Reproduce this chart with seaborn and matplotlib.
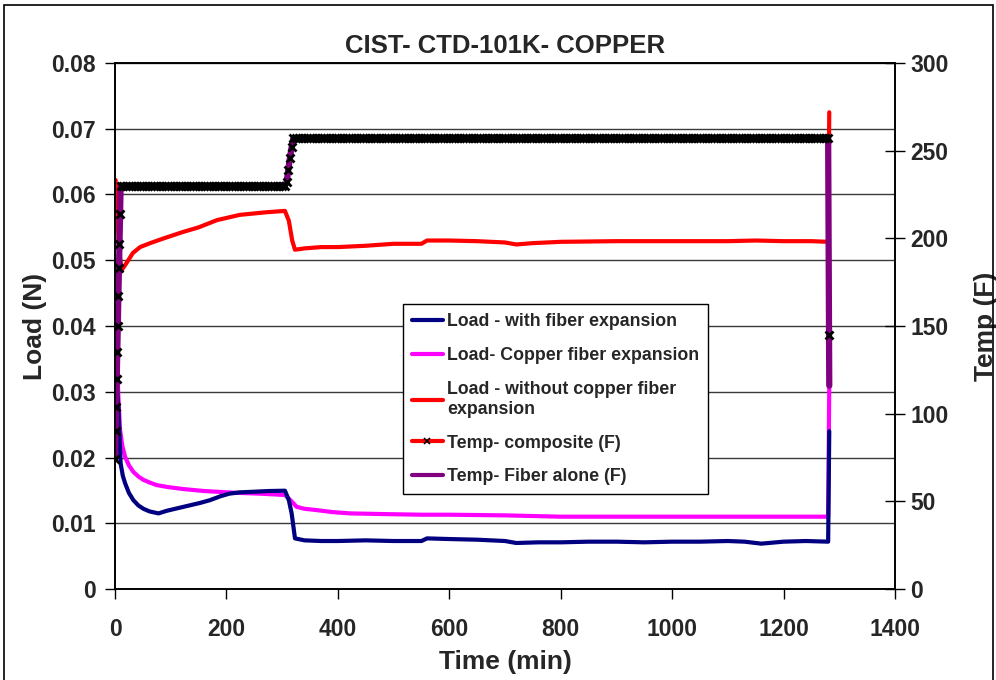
import numpy as np
import pandas as pd
import matplotlib
matplotlib.use("Agg")
import matplotlib.pyplot as plt
from matplotlib.lines import Line2D
from matplotlib.patches import Rectangle
import seaborn as sns

# ---------------- data ----------------
title = "CIST- CTD-101K- COPPER"

# Load - with fiber expansion (N)
t_with = [0, 3, 6, 10, 14, 18, 25, 33, 42, 51, 62, 78, 93, 108, 123, 138, 153,
          170, 189, 205, 224, 250, 275, 305, 312, 317, 323, 340, 370, 400, 450,
          500, 550, 560, 600, 650, 700, 720, 760, 800, 850, 900, 950, 1000, 1050,
          1100, 1130, 1160, 1200, 1240, 1280, 1282]
load_with = [0.036, 0.031, 0.0277, 0.0191, 0.0172, 0.0161, 0.0146, 0.0135,
             0.0127, 0.0122, 0.0118, 0.0115, 0.0119, 0.0122, 0.0125, 0.0128,
             0.0131, 0.0135, 0.0141, 0.0145, 0.0147, 0.0148, 0.0149, 0.01495,
             0.0135, 0.0115, 0.0077, 0.0074, 0.0073, 0.0073, 0.0074, 0.0073,
             0.0073, 0.0077, 0.0076, 0.0075, 0.0073, 0.0070, 0.0071, 0.0071,
             0.0072, 0.0072, 0.0071, 0.0072, 0.0072, 0.0073, 0.0072, 0.0069,
             0.0072, 0.0073, 0.0072, 0.024]

# Load - copper fiber expansion (N)
t_copper = [0, 3, 6, 9, 13, 18, 25, 33, 42, 51, 62, 75, 95, 123, 160, 212, 260,
            305, 315, 326, 340, 362, 390, 422, 480, 550, 600, 700, 800, 900,
            1000, 1100, 1200, 1280, 1282]
load_copper = [0.050, 0.036, 0.0292, 0.0242, 0.0218, 0.0201, 0.0188, 0.0178,
               0.0171, 0.0166, 0.0162, 0.0158, 0.0155, 0.0152, 0.0149, 0.01465,
               0.0145, 0.0143, 0.0135, 0.0125, 0.0122, 0.0120, 0.0117, 0.0115,
               0.0114, 0.0113, 0.0113, 0.0112, 0.0110, 0.0110, 0.0110, 0.0110,
               0.0110, 0.0110, 0.031]

# Load - without copper fiber expansion (N)
t_without = [1, 3, 8, 12, 20, 32, 45, 63, 90, 122, 150, 183, 224, 272, 305, 312,
             318, 323, 340, 370, 400, 450, 500, 550, 560, 600, 650, 700, 720,
             750, 800, 900, 1000, 1100, 1150, 1200, 1250, 1280, 1282]
load_without = [0.0622, 0.058, 0.051, 0.0485, 0.0495, 0.0511, 0.0520, 0.0526,
                0.0534, 0.0543, 0.0550, 0.0561, 0.0569, 0.0573, 0.0575, 0.0560,
                0.0530, 0.0516, 0.0518, 0.0520, 0.0520, 0.0522, 0.0525, 0.0525,
                0.0530, 0.0530, 0.0529, 0.0527, 0.0524, 0.0526, 0.0528, 0.0529,
                0.0529, 0.0529, 0.0530, 0.0529, 0.0529, 0.0528, 0.0725]

# Temperature of the composite (F), logged every minute on the ramps
t_comp = (list(range(0, 11)) + list(range(15, 301, 5))
          + [305, 308, 311, 314, 317, 320] + list(range(325, 1281, 5)) + [1282])
temp_comp = ([74, 90, 104, 120, 135, 150, 167, 183, 197, 214, 230]
             + [230, 230, 230, 230, 230, 230, 230, 230, 230, 230, 230, 230,
                230, 230, 230, 230, 230, 230, 230, 230, 230, 230, 230, 230,
                230, 230, 230, 230, 230, 230, 230, 230, 230, 230, 230, 230,
                230, 230, 230, 230, 230, 230, 230, 230, 230, 230, 230, 230,
                230, 230, 230, 230, 230, 230, 230, 230, 230, 230]
             + [230, 232, 239, 246, 252, 257]
             + [257, 257, 257, 257, 257, 257, 257, 257, 257, 257, 257, 257,
                257, 257, 257, 257, 257, 257, 257, 257, 257, 257, 257, 257,
                257, 257, 257, 257, 257, 257, 257, 257, 257, 257, 257, 257,
                257, 257, 257, 257, 257, 257, 257, 257, 257, 257, 257, 257,
                257, 257, 257, 257, 257, 257, 257, 257, 257, 257, 257, 257,
                257, 257, 257, 257, 257, 257, 257, 257, 257, 257, 257, 257,
                257, 257, 257, 257, 257, 257, 257, 257, 257, 257, 257, 257,
                257, 257, 257, 257, 257, 257, 257, 257, 257, 257, 257, 257,
                257, 257, 257, 257, 257, 257, 257, 257, 257, 257, 257, 257,
                257, 257, 257, 257, 257, 257, 257, 257, 257, 257, 257, 257,
                257, 257, 257, 257, 257, 257, 257, 257, 257, 257, 257, 257,
                257, 257, 257, 257, 257, 257, 257, 257, 257, 257, 257, 257,
                257, 257, 257, 257, 257, 257, 257, 257, 257, 257, 257, 257,
                257, 257, 257, 257, 257, 257, 257, 257, 257, 257, 257, 257,
                257, 257, 257, 257, 257, 257, 257, 257, 257, 257, 257, 257,
                257, 257, 257, 257, 257, 257, 257, 257, 257, 257, 257, 257]
             + [145])

# Temperature of the fiber alone (F)
t_fiber = [0, 2, 4, 6, 8, 10, 100, 200, 305, 308, 311, 314, 317, 320, 500, 800,
           1100, 1280, 1282]
temp_fiber = [74, 104, 135, 167, 197, 230, 230, 230, 230, 232, 239, 246, 252,
              257, 257, 257, 257, 257, 116]

C_WITH = "#000080"
C_COPPER = "#FF00FF"
C_WITHOUT = "#FF0000"
C_FIBER = "#800080"

# ---------------- style ----------------
sns.set_style("white")
plt.rcParams["font.family"] = ["Liberation Sans", "DejaVu Sans"]
plt.rcParams["font.weight"] = "bold"

fig = plt.figure(figsize=(9.96, 6.8), dpi=100)
ax = fig.add_axes([0.1155, 0.1338, 0.7831, 0.7736])

df_with = pd.DataFrame({"t": t_with, "v": load_with})
df_copper = pd.DataFrame({"t": t_copper, "v": load_copper})
df_without = pd.DataFrame({"t": t_without, "v": load_without})
df_comp = pd.DataFrame({"t": t_comp, "v": temp_comp})
df_fiber = pd.DataFrame({"t": t_fiber, "v": temp_fiber})

sns.lineplot(data=df_without, x="t", y="v", ax=ax, color=C_WITHOUT, lw=3,
             sort=False, estimator=None)
sns.lineplot(data=df_copper, x="t", y="v", ax=ax, color=C_COPPER, lw=3,
             sort=False, estimator=None)
sns.lineplot(data=df_with, x="t", y="v", ax=ax, color=C_WITH, lw=3,
             sort=False, estimator=None)

ax.set_xlim(0, 1400)
ax.set_ylim(0, 0.08)
ax.set_xticks(np.arange(0, 1401, 200))
ax.set_yticks(np.arange(0, 0.0801, 0.01))
ax.set_yticklabels(["0", "0.01", "0.02", "0.03", "0.04", "0.05", "0.06",
                    "0.07", "0.08"])
for y in np.arange(0.01, 0.0801, 0.01):
    ax.axhline(y, color="#3a3a3a", lw=1.0, zorder=0.5)

ax.set_xlabel("Time (min)", fontsize=19, fontweight="bold", labelpad=6)
ax.set_ylabel("Load (N)", fontsize=19, fontweight="bold", labelpad=3)
ax.set_title(title, fontsize=18.5, fontweight="bold", pad=7)
ax.tick_params(axis="y", labelsize=16.5, direction="out", length=7,
               width=1, color="black", pad=7, left=True)
ax.tick_params(axis="x", labelsize=16.5, direction="out", length=7,
               width=1, color="black", pad=14, bottom=True)
for lab in ax.get_xticklabels() + ax.get_yticklabels():
    lab.set_fontweight("bold")
for s in ax.spines.values():
    s.set_color("black")
    s.set_linewidth(1.2)

# Temperature on the secondary axis
ax2 = ax.twinx()
sns.lineplot(data=df_comp, x="t", y="v", ax=ax2, color=C_WITHOUT, lw=2,
             sort=False, estimator=None, zorder=1)
sns.lineplot(data=df_fiber, x="t", y="v", ax=ax2, color=C_FIBER, lw=4.5,
             sort=False, estimator=None, zorder=2)
ax2.plot(t_comp, temp_comp, ls="none", marker="x", color="black", ms=6,
         mew=2.0, zorder=3)
ax2.set_ylim(0, 300)
ax2.set_yticks(np.arange(0, 301, 50))
ax2.set_ylabel("Temp (F)", fontsize=19, fontweight="bold", labelpad=18)
ax2.tick_params(axis="y", labelsize=16.5, direction="inout", length=14,
                width=1, color="black", pad=4, right=True)
for lab in ax2.get_yticklabels():
    lab.set_fontweight("bold")
ax2.grid(False)
for s in ax2.spines.values():
    s.set_color("black")
    s.set_linewidth(1.2)

handles = [
    Line2D([], [], color=C_WITH, lw=3),
    Line2D([], [], color=C_COPPER, lw=3),
    Line2D([], [], color=C_WITHOUT, lw=3),
    Line2D([], [], color=C_WITHOUT, lw=3, marker="x", mec="black", ms=4,
           mew=1.2, markevery=[1]),
    Line2D([], [], color=C_FIBER, lw=3),
]
labels = ["Load - with fiber expansion", "Load- Copper fiber expansion",
          "Load - without copper fiber\nexpansion", "Temp- composite (F)",
          "Temp- Fiber alone (F)"]
leg = ax2.legend(handles, labels, loc="upper left",
                 bbox_to_anchor=(0.369, 0.541), frameon=True, fancybox=False,
                 framealpha=1, edgecolor="black", borderpad=0.5,
                 borderaxespad=0, handlelength=1.75, handletextpad=0.25,
                 labelspacing=0.95,
                 prop={"family": "Liberation Sans", "weight": "bold",
                       "size": 12.8})
leg.get_frame().set_linewidth(1.0)

# Outer chart frame
fig.patches.append(Rectangle((4 / 996, -0.05), 989 / 996, 1 - 5 / 680 + 0.05,
                             transform=fig.transFigure, fill=False,
                             edgecolor="black", lw=1.2))

fig.savefig("out.png", dpi=100)
